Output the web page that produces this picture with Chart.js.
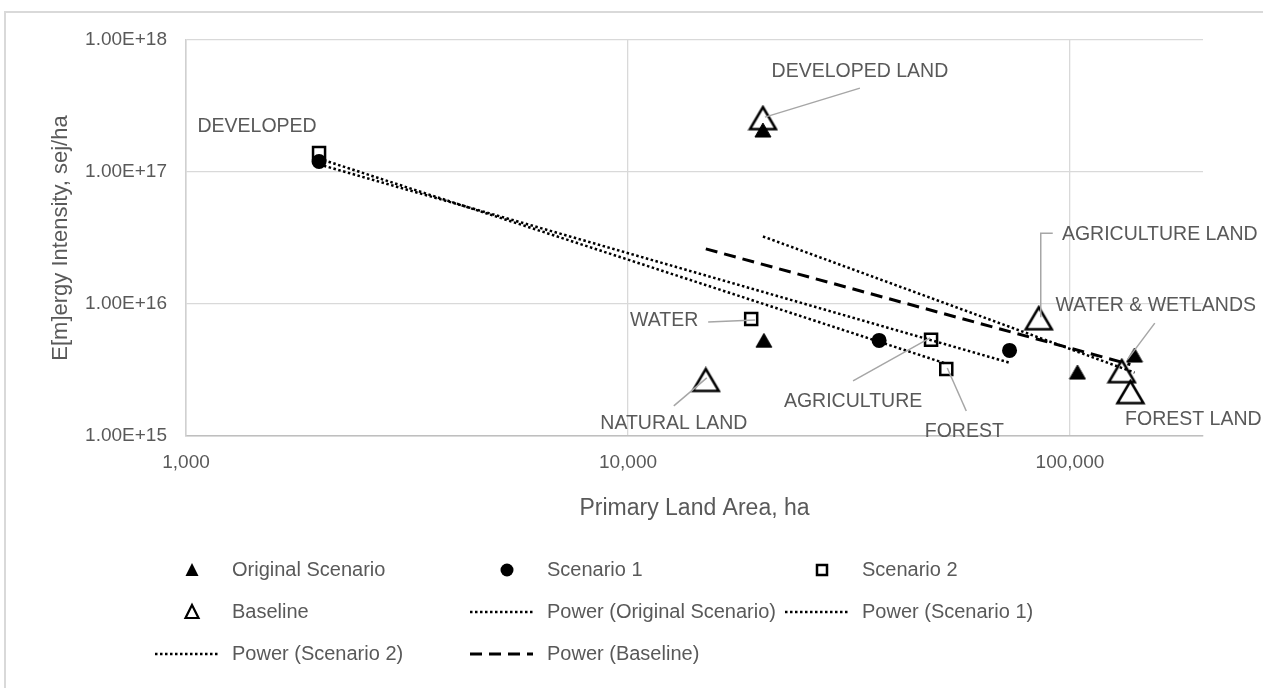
<!DOCTYPE html>
<html>
<head>
<meta charset="utf-8">
<script src="https://cdn.jsdelivr.net/npm/chart.js@4.4.0/dist/chart.umd.min.js"></script>
<style>
  body { margin: 0; background: #fff; overflow: hidden; }
  #frame { position: absolute; left: 4px; top: 11px; width: 1300px; height: 700px; border: 2px solid #d9d9d9; }
  #chart { position: absolute; left: 0; top: 0; }
</style>
</head>
<body>
<div id="frame"></div>
<canvas id="chart" width="1263" height="688"></canvas>
<script>
// Dữ liệu (ha, sej/ha)
var originalX = [20200, 20300, 104000, 140000];
var originalY = [2.08e17, 5.3e15, 3.05e15, 4.1e15];
var scenario1X = [2000, 37000, 73000];
var scenario1Y = [1.2e17, 5.3e15, 4.45e15];
var scenario2X = [2000, 19000, 48500, 52500];
var scenario2Y = [1.39e17, 7.7e15, 5.35e15, 3.22e15];
var baselineX = [20200, 15000, 85000, 131000, 137000];
var baselineY = [2.56e17, 2.66e15, 7.8e15, 3.1e15, 2.15e15];

var xTicks = [1000, 10000, 100000];
var yTicks = [1e15, 1e16, 1e17, 1e18];

var gray = '#595959';
var font = 'Liberation Sans, Arial, sans-serif';

function points(xs, ys) {
  return xs.map(function (x, i) { return { x: x, y: ys[i] }; });
}

// Đường xu hướng dạng Power (hồi quy log-log) như Excel
function powerFit(xs, ys) {
  var lx = xs.map(Math.log10), ly = ys.map(Math.log10);
  var n = lx.length, mx = 0, my = 0;
  for (var i = 0; i < n; i++) { mx += lx[i] / n; my += ly[i] / n; }
  var sxy = 0, sxx = 0;
  for (var j = 0; j < n; j++) { sxy += (lx[j] - mx) * (ly[j] - my); sxx += (lx[j] - mx) * (lx[j] - mx); }
  var m = sxy / sxx, b = my - m * mx;
  var x0 = Math.min.apply(null, xs), x1 = Math.max.apply(null, xs);
  return [x0, x1].map(function (x) { return { x: x, y: Math.pow(10, b + m * Math.log10(x)) }; });
}

// Marker tam giác căn giữa theo khung bao (giống Excel)
function triangleMarker(w, h, filled, lw) {
  var c = document.createElement('canvas');
  c.width = Math.ceil(w + lw * 2); c.height = Math.ceil(h + lw * 2);
  var g = c.getContext('2d');
  g.beginPath();
  g.moveTo(c.width / 2, lw);
  g.lineTo(c.width - lw, c.height - lw);
  g.lineTo(lw, c.height - lw);
  g.closePath();
  if (filled) { g.fillStyle = '#000'; g.fill(); }
  g.lineWidth = lw; g.strokeStyle = '#000'; g.stroke();
  return c;
}

var filledTri = triangleMarker(16, 14, true, 1);
var openTri = triangleMarker(26, 22, false, 2.5);

var dotted = [2.5, 2.5];
var dashed = [12, 7];

var datasets = [
  { label: 'Original Scenario', data: points(originalX, originalY), pointStyle: filledTri, pointRadius: 9, order: 8 },
  { label: 'Scenario 1', data: points(scenario1X, scenario1Y), pointStyle: 'circle', pointRadius: 7.5,
    backgroundColor: '#000', borderColor: '#000', pointBorderWidth: 0, order: 7 },
  { label: 'Scenario 2', data: points(scenario2X, scenario2Y), pointStyle: 'rect', pointRadius: 8.5,
    backgroundColor: 'rgba(0,0,0,0)', borderColor: '#000', pointBorderWidth: 2.5, order: 6 },
  { label: 'Baseline', data: points(baselineX, baselineY), pointStyle: openTri, pointRadius: 14, order: 5 },
  { label: 'Power (Original Scenario)', data: powerFit(originalX, originalY), showLine: true, pointRadius: 0,
    borderColor: '#000', borderWidth: 2.5, borderDash: dotted, order: 4 },
  { label: 'Power (Scenario 1)', data: powerFit(scenario1X, scenario1Y), showLine: true, pointRadius: 0,
    borderColor: '#000', borderWidth: 2.5, borderDash: dotted, order: 3 },
  { label: 'Power (Scenario 2)', data: powerFit(scenario2X, scenario2Y), showLine: true, pointRadius: 0,
    borderColor: '#000', borderWidth: 2.5, borderDash: dotted, order: 2 },
  { label: 'Power (Baseline)', data: powerFit(baselineX, baselineY), showLine: true, pointRadius: 0,
    borderColor: '#000', borderWidth: 3, borderDash: dashed, order: 1 }
];

// Nhãn điểm: series, chỉ số điểm, vị trí chữ (lệch so với điểm) và đường dẫn
var pointLabels = [
  { text: 'DEVELOPED', ds: 2, i: 0, dx: -62, dy: -26, leader: null },
  { text: 'DEVELOPED LAND', ds: 3, i: 0, dx: 97, dy: -46, leader: [[97, -30], [2, -1]] },
  { text: 'WATER', ds: 2, i: 1, dx: -87, dy: 2, leader: [[-43, 3], [4, 1]] },
  { text: 'NATURAL LAND', ds: 3, i: 1, dx: -32, dy: 44, leader: [[-32, 26], [1, -2]] },
  { text: 'AGRICULTURE', ds: 2, i: 2, dx: -78, dy: 62, leader: [[-78, 41], [-1, -2]] },
  { text: 'FOREST', ds: 2, i: 3, dx: 18, dy: 63, leader: [[20, 42], [1, -1]] },
  { text: 'AGRICULTURE LAND', ds: 3, i: 2, dx: 121, dy: -84, leader: [[14, -85], [2, -85], [2, -1]] },
  { text: 'WATER & WETLANDS', ds: 3, i: 3, dx: 34, dy: -66, leader: [[33, -48], [6, -12]] },
  { text: 'FOREST LAND', ds: 3, i: 4, dx: 63, dy: 28, leader: null }
];

var labelPlugin = {
  id: 'pointLabels',
  afterDatasetsDraw: function (chart) {
    var ctx = chart.ctx;
    ctx.save();
    pointLabels.forEach(function (l) {
      var el = chart.getDatasetMeta(l.ds).data[l.i];
      if (l.leader) {
        ctx.beginPath();
        l.leader.forEach(function (p, k) {
          if (k === 0) ctx.moveTo(el.x + p[0], el.y + p[1]); else ctx.lineTo(el.x + p[0], el.y + p[1]);
        });
        ctx.strokeStyle = '#a6a6a6'; ctx.lineWidth = 1.5; ctx.setLineDash([]);
        ctx.stroke();
      }
      ctx.fillStyle = gray;
      ctx.font = '19.5px ' + font;
      ctx.textAlign = 'center'; ctx.textBaseline = 'middle';
      ctx.fillText(l.text, el.x + l.dx, el.y + l.dy);
    });
    ctx.restore();
  }
};

// Chú thích 3 cột như Excel
var legendPlugin = {
  id: 'gridLegend',
  afterDraw: function (chart) {
    var ctx = chart.ctx;
    ctx.save();
    chart.data.datasets.forEach(function (d, k) {
      var col = k % 3, row = Math.floor(k / 3);
      var x0 = 155 + col * 315, y = 570 + row * 42;
      var cx = x0 + 37;
      ctx.strokeStyle = '#000'; ctx.fillStyle = '#000'; ctx.setLineDash([]);
      if (d.showLine) {
        ctx.beginPath(); ctx.moveTo(x0, y); ctx.lineTo(x0 + 63, y);
        ctx.lineWidth = d.borderWidth; ctx.setLineDash(d.borderDash);
        ctx.stroke(); ctx.setLineDash([]);
      } else if (d.pointStyle === 'circle') {
        ctx.beginPath(); ctx.arc(cx, y, 6.5, 0, Math.PI * 2); ctx.fill();
      } else if (d.pointStyle === 'rect') {
        ctx.lineWidth = 2.5; ctx.strokeRect(cx - 5, y - 5, 10, 10);
      } else {
        var filled = d.pointStyle === filledTri;
        ctx.beginPath(); ctx.moveTo(cx, y - 7); ctx.lineTo(cx + 6.5, y + 6); ctx.lineTo(cx - 6.5, y + 6); ctx.closePath();
        if (filled) ctx.fill(); else { ctx.lineWidth = 2.2; ctx.stroke(); }
      }
      ctx.fillStyle = gray;
      ctx.font = '20px ' + font;
      ctx.textAlign = 'left'; ctx.textBaseline = 'middle';
      ctx.fillText(d.label, x0 + 77, y);
    });
    ctx.restore();
  }
};

var ctx = document.getElementById('chart').getContext('2d');
var chart = new Chart(ctx, {
  type: 'scatter',
  data: { datasets: datasets },
  options: {
    responsive: false,
    animation: false,
    layout: { padding: { left: 48, top: 40, right: 60, bottom: 162 } },
    plugins: { legend: { display: false }, tooltip: { enabled: false } },
    scales: {
      x: {
        type: 'logarithmic', min: 1000, max: 200000,
        afterBuildTicks: function (s) { s.ticks = xTicks.map(function (v) { return { value: v }; }); },
        afterFit: function (s) { s.height = 90; },
        ticks: {
          autoSkip: false, maxRotation: 0, padding: 15, color: gray,
          font: { family: font, size: 19 },
          callback: function (v) { return v.toLocaleString('en-US'); }
        },
        grid: { color: '#d9d9d9', lineWidth: 1.3, drawTicks: false },
        border: { color: '#bfbfbf', width: 1.5 },
        title: { display: true, text: 'Primary Land Area, ha', color: gray, font: { family: font, size: 23 }, padding: { top: 0, bottom: 4 } }
      },
      y: {
        type: 'logarithmic', min: 1e15, max: 1e18,
        afterBuildTicks: function (s) { s.ticks = yTicks.map(function (v) { return { value: v }; }); },
        afterFit: function (s) { s.width = 138; },
        ticks: {
          padding: 19, color: gray,
          font: { family: font, size: 19 },
          callback: function (v) { return Number(v).toExponential(2).toUpperCase(); }
        },
        grid: { color: '#d9d9d9', lineWidth: 1.3, drawTicks: false },
        border: { color: '#d0d0d0', width: 1.5 },
        title: { display: true, text: 'E[m]ergy Intensity, sej/ha', color: gray, font: { family: font, size: 22 }, padding: 0 }
      }
    }
  },
  plugins: [labelPlugin, legendPlugin]
});
</script>
</body>
</html>
